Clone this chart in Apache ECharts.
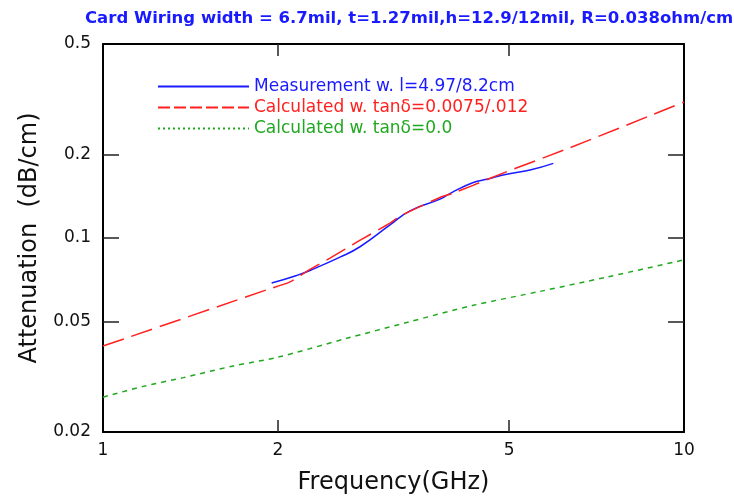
<!DOCTYPE html>
<html>
<head>
<meta charset="utf-8">
<script src="https://cdn.jsdelivr.net/npm/echarts@6/dist/echarts.min.js"></script>
<style>
  html, body { margin: 0; padding: 0; background: #fff; }
  #chart { width: 734px; height: 500px; }
</style>
</head>
<body>
<div id="chart"></div>
<script>
// Measured attenuation (combined line lengths 4.97 cm / 8.2 cm)
const freqMeas = [1.951, 2.154, 2.271, 2.558, 2.769, 3.119, 3.376, 3.802, 3.983, 4.339, 4.575, 4.953, 5.432, 5.958];
const attMeas  = [0.0688, 0.0733, 0.0764, 0.0853, 0.0930, 0.1115, 0.1253, 0.138, 0.1458, 0.1584, 0.1627, 0.1696, 0.1757, 0.1857];

// Calculated with tan(delta) = 0.0075 / 0.012
const freqCalc = [1, 1.915, 2.099, 2.256, 2.459, 2.762, 3.119, 3.245, 3.802, 3.988, 4.333, 4.919, 6.366, 10];
const attCalc  = [0.0408, 0.0651, 0.0695, 0.0764, 0.0846, 0.0978, 0.1132, 0.1199, 0.140, 0.1446, 0.1548, 0.1724, 0.2115, 0.309];

// Calculated without dielectric loss
const freqLossless = [1, 1.173, 1.375, 1.676, 2, 2.628, 3.332, 4.339, 5.651, 7.362, 10];
const attLossless  = [0.0267, 0.0292, 0.0314, 0.0346, 0.0372, 0.0435, 0.0496, 0.0572, 0.0642, 0.0723, 0.0834];

// Axis ticks and labels
const xLabels = [1, 2, 5, 10];
const xTicks  = [2, 5];
const yLabels = [0.02, 0.05, 0.1, 0.2, 0.5];
const yTicks  = [0.05, 0.1, 0.2];

const seriesNames = [
  'Measurement w. l=4.97/8.2cm',
  'Calculated w. tanδ=0.0075/.012',
  'Calculated w. tanδ=0.0'
];
const titleText = 'Card Wiring width = 6.7mil, t=1.27mil,h=12.9/12mil, R=0.038ohm/cm';

const FONT = 'DejaVu Sans';
const BLUE = '#1a1aff';
const RED = '#ff2020';
const GREEN = '#20a820';

const pairs = (xs, ys) => xs.map((x, i) => [x, ys[i]]);

const frameLine = { show: true, onZero: false, lineStyle: { color: '#000', width: 2 } };
const tickStyle = { color: '#222', width: 1.5 };

function xAxisDef(pos, withLabels) {
  return {
    type: 'log', logBase: 10, min: 1, max: 10, position: pos,
    axisLine: frameLine,
    axisTick: { show: true, inside: true, length: 12, customValues: xTicks, lineStyle: tickStyle },
    axisLabel: withLabels ? {
      show: true, customValues: xLabels, margin: 10, fontSize: 17, color: '#111', fontFamily: FONT,
      formatter: v => String(v)
    } : { show: false },
    minorTick: { show: false }, splitLine: { show: false }, minorSplitLine: { show: false },
    name: withLabels ? 'Frequency(GHz)' : '',
    nameLocation: 'middle', nameGap: 39,
    nameTextStyle: { fontSize: 24, color: '#111', fontFamily: FONT }
  };
}

function yAxisDef(pos, withLabels) {
  return {
    type: 'log', logBase: 10, min: 0.02, max: 0.5, position: pos,
    axisLine: frameLine,
    axisTick: { show: true, inside: true, length: 16, customValues: yTicks, lineStyle: tickStyle },
    axisLabel: withLabels ? {
      show: true, customValues: yLabels, margin: 12, fontSize: 17, color: '#111', fontFamily: FONT,
      formatter: v => String(v)
    } : { show: false },
    minorTick: { show: false }, splitLine: { show: false }, minorSplitLine: { show: false },
    name: withLabels ? 'Attenuation  (dB/cm)' : '',
    nameLocation: 'middle', nameGap: 43, nameRotate: 90,
    nameTextStyle: { fontSize: 24, color: '#111', fontFamily: FONT }
  };
}

const chart = echarts.init(document.getElementById('chart'), null, { renderer: 'canvas' });
chart.setOption({
  animation: false,
  backgroundColor: '#fff',
  title: {
    text: titleText, left: 80, top: 5,
    textStyle: { color: BLUE, fontFamily: FONT, fontSize: 16.5, fontWeight: 'bold' }
  },
  grid: { left: 103, right: 50, top: 44, bottom: 67 },
  legend: {
    orient: 'vertical', left: 152, top: 73,
    itemWidth: 91, itemHeight: 12, itemGap: 4,
    itemStyle: { opacity: 0 },
    textStyle: { fontFamily: FONT, fontSize: 17 },
    data: [
      { name: seriesNames[0], textStyle: { color: BLUE } },
      { name: seriesNames[1], textStyle: { color: RED }, lineStyle: { type: [12, 4] } },
      { name: seriesNames[2], textStyle: { color: GREEN }, lineStyle: { type: [2, 3] } }
    ]
  },
  xAxis: [xAxisDef('bottom', true), xAxisDef('top', false)],
  yAxis: [yAxisDef('left', true), yAxisDef('right', false)],
  series: [
    {
      name: seriesNames[0], type: 'line', xAxisIndex: 0, yAxisIndex: 0,
      data: pairs(freqMeas, attMeas), symbol: 'none', smooth: 0.5,
      lineStyle: { color: BLUE, width: 1.5 }, itemStyle: { color: BLUE }
    },
    {
      name: seriesNames[1], type: 'line', xAxisIndex: 0, yAxisIndex: 0,
      data: pairs(freqCalc, attCalc), symbol: 'none', smooth: 0.2,
      lineStyle: { color: RED, width: 1.5, type: [22, 8] }, itemStyle: { color: RED }
    },
    {
      name: seriesNames[2], type: 'line', xAxisIndex: 0, yAxisIndex: 0,
      data: pairs(freqLossless, attLossless), symbol: 'none', smooth: 0.3,
      lineStyle: { color: GREEN, width: 1.5, type: [5, 5] }, itemStyle: { color: GREEN }
    }
  ]
});
</script>
</body>
</html>
